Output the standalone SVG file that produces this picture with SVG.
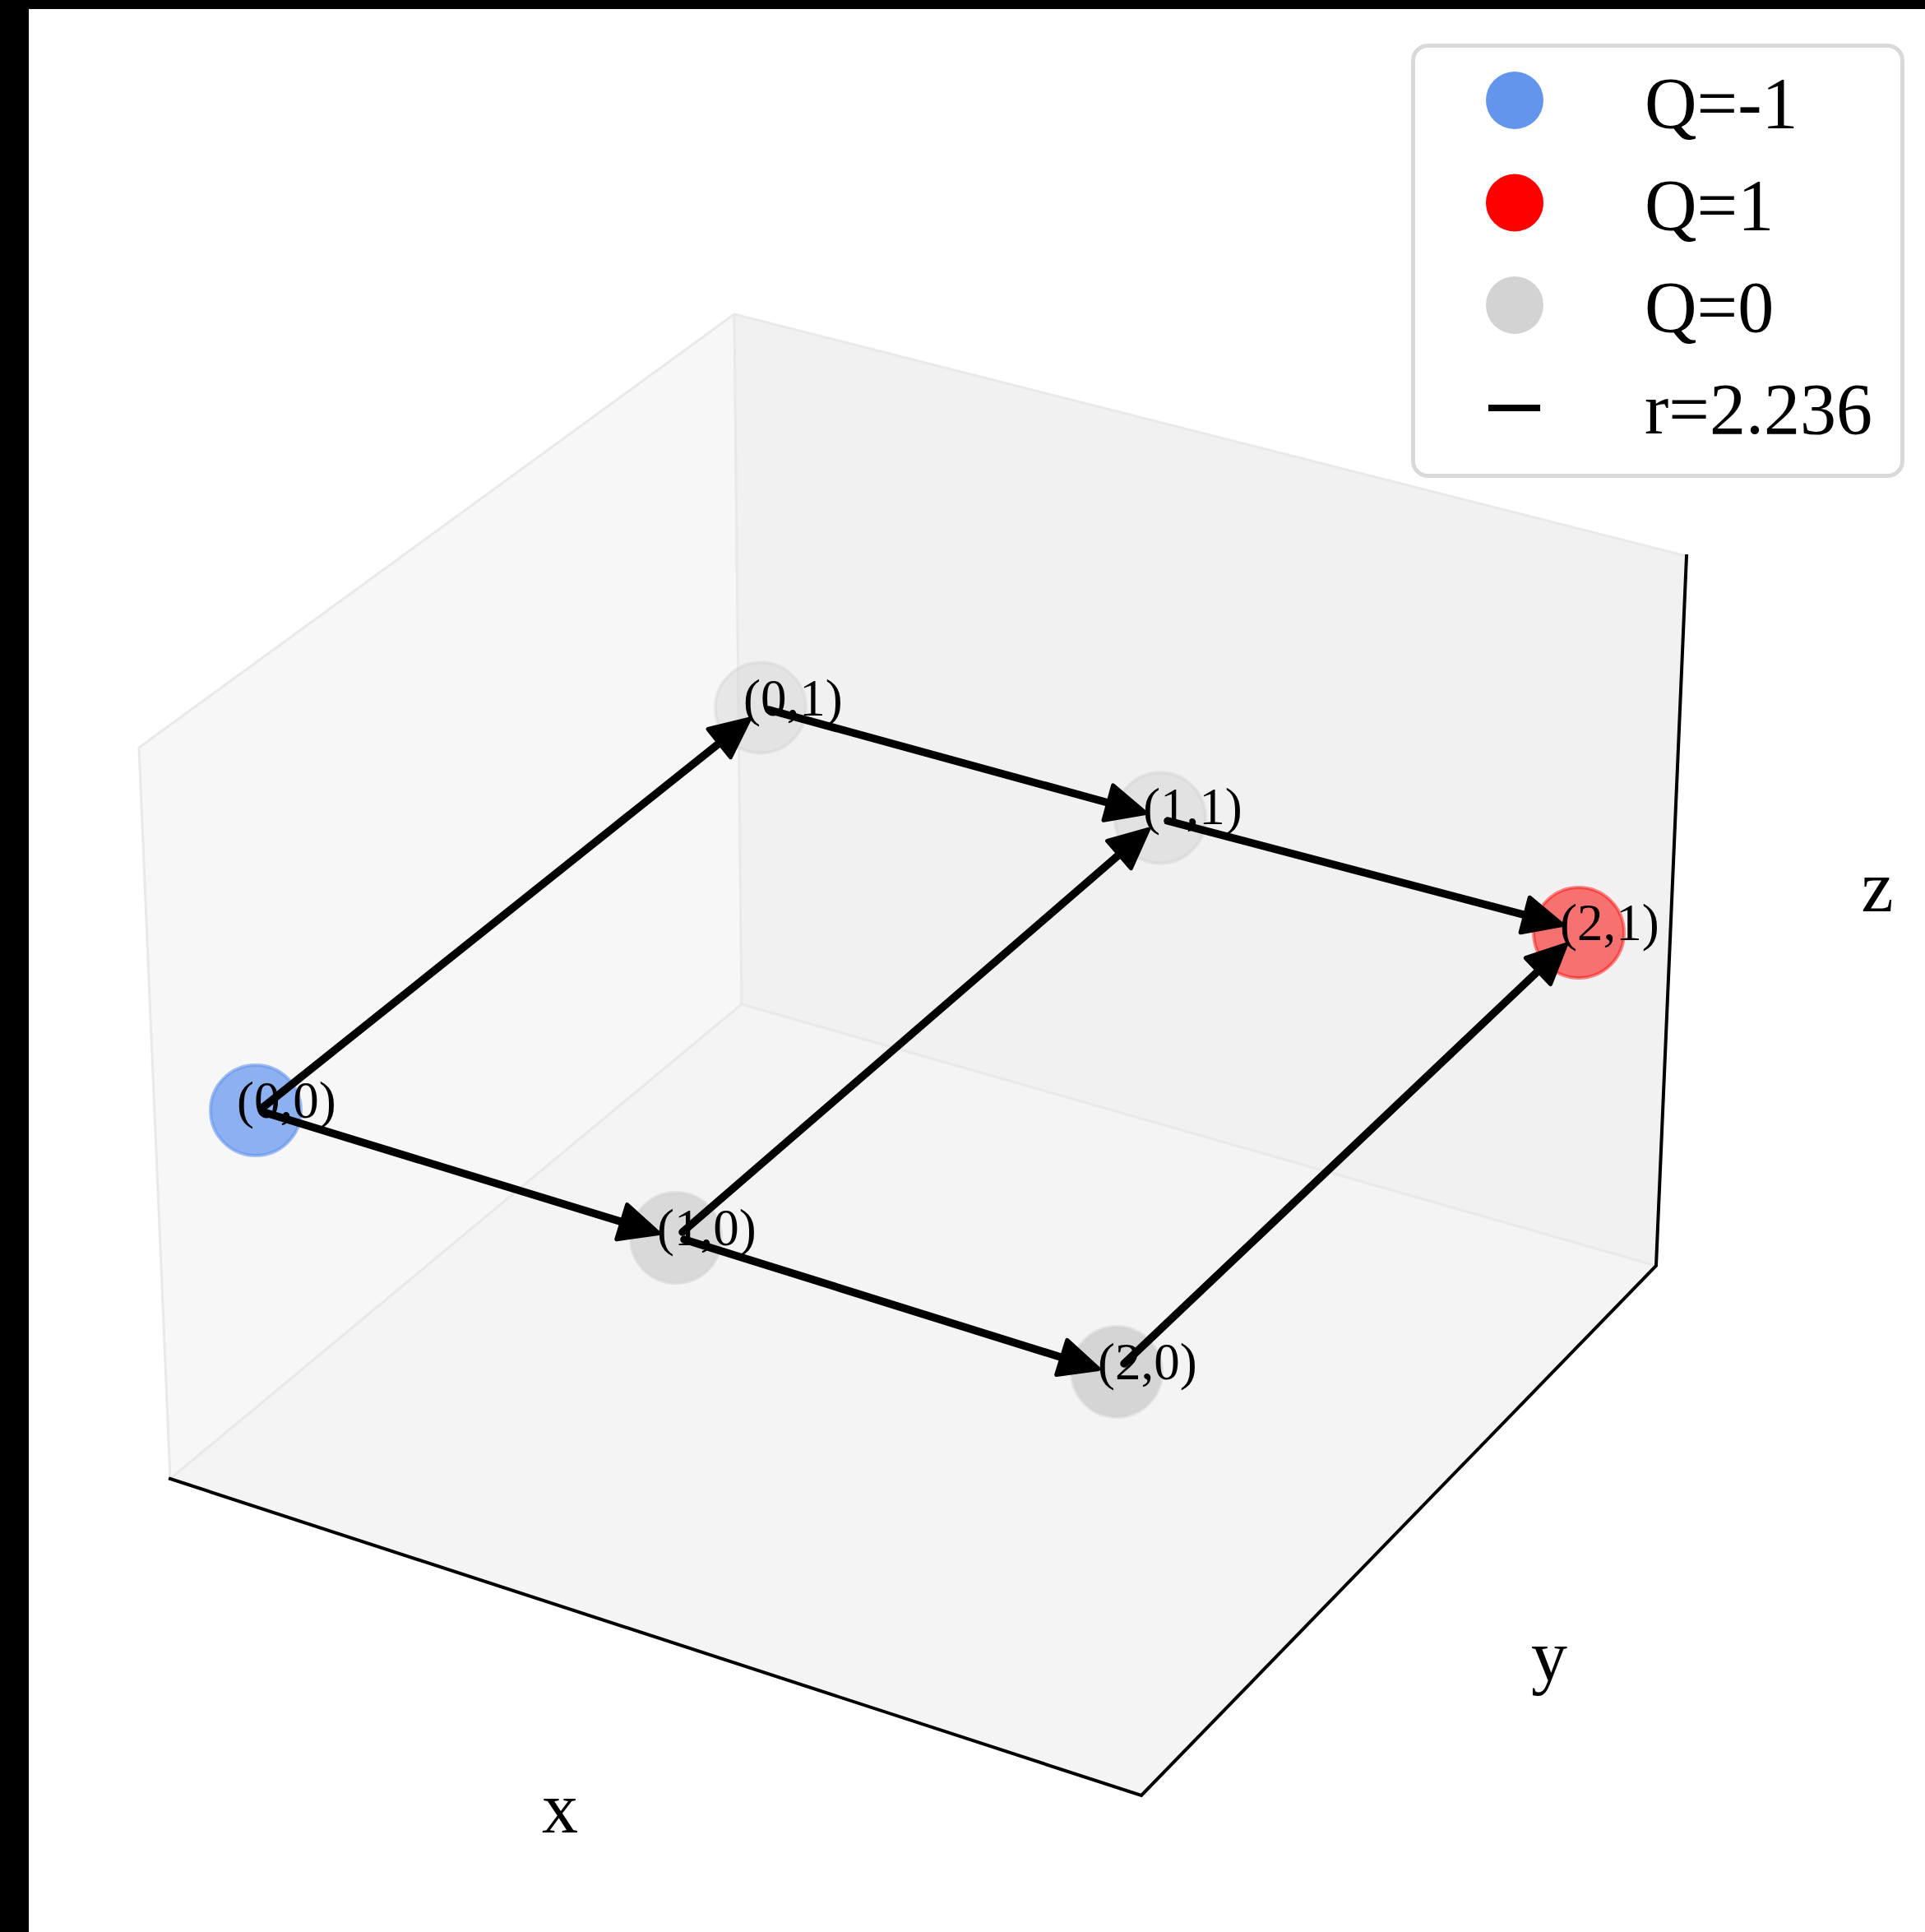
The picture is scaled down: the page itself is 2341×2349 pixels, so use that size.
<svg xmlns="http://www.w3.org/2000/svg" width="2341" height="2349" viewBox="0 0 2341 2349">
<style>
.lbl{font-family:"Liberation Serif","Times New Roman",serif;font-size:63px;fill:#000}
.leg{font-family:"Liberation Serif","Times New Roman",serif;font-size:88px;fill:#000}
.ax{font-family:"Liberation Serif","Times New Roman",serif;font-size:88px;fill:#000;text-anchor:middle}
.arr{stroke:#000;stroke-width:9.5;fill:none;stroke-linecap:round;marker-end:url(#head)}
.pane{stroke:#e9e9e9;stroke-width:3;stroke-linejoin:round}
.axis{stroke:#000;stroke-width:4;fill:none;stroke-linecap:square}
</style>
<defs>
<marker id="head" markerUnits="userSpaceOnUse" viewBox="-20 -32 76 64" markerWidth="76" markerHeight="64" refX="0" refY="0" orient="auto">
<path d="M-11,-22 L36,0 L-11,22 Z" fill="#000" stroke="#000" stroke-width="5" stroke-linejoin="round"/>
</marker>
</defs>
<rect x="0" y="0" width="2341" height="2349" fill="#fff"/>
<rect x="0" y="0" width="35" height="2349" fill="#000"/>
<rect x="0" y="0" width="2341" height="11" fill="#000"/>
<g id="panes">
<polygon class="pane" points="169,909 893,382 902,1221 207,1798" fill="#f7f7f7"/>
<polygon class="pane" points="893,382 2051,676 2014,1539 902,1221" fill="#f1f1f1"/>
<polygon class="pane" points="207,1798 902,1221 2014,1539 1388,2183" fill="#f4f4f4"/>
</g>
<g id="axes">
<polyline class="axis" points="207,1798 1388,2183 2014,1539 2051,676"/>
<text class="ax" x="681" y="2228">x</text>
<text class="ax" x="1884" y="2043">y</text>
<text class="ax" x="2283" y="1108">z</text>
</g>
<g id="node-0-1"><circle cx="925" cy="860.5" r="55" fill="#d3d3d3" fill-opacity="0.45" stroke="#d3d3d3" stroke-opacity="0.45" stroke-width="4"/></g>
<g id="node-1-1"><circle cx="1411" cy="994.5" r="55" fill="#d3d3d3" fill-opacity="0.5" stroke="#d3d3d3" stroke-opacity="0.5" stroke-width="4"/></g>
<g id="node-2-1"><circle cx="1920" cy="1134" r="55" fill="#ff0000" fill-opacity="0.53" stroke="#ff0000" stroke-opacity="0.45" stroke-width="4"/></g>
<g id="node-0-0"><circle cx="311" cy="1350" r="55" fill="#6495ed" fill-opacity="0.72" stroke="#6495ed" stroke-opacity="0.6" stroke-width="4"/></g>
<g id="node-1-0"><circle cx="822" cy="1505" r="55" fill="#d3d3d3" fill-opacity="0.85" stroke="#d3d3d3" stroke-opacity="0.6" stroke-width="4"/></g>
<g id="node-2-0"><circle cx="1358" cy="1668" r="55" fill="#d3d3d3" fill-opacity="0.95" stroke="#d3d3d3" stroke-opacity="0.5" stroke-width="4"/></g>
<g id="connectors">
<line class="arr" x1="319" y1="1347" x2="883.3" y2="896.7"/>
<line class="arr" x1="320" y1="1352" x2="766.7" y2="1488.9"/>
<line class="arr" x1="935" y1="863" x2="1358.4" y2="979"/>
<line class="arr" x1="830" y1="1498" x2="1369.3" y2="1031.9"/>
<line class="arr" x1="832" y1="1507" x2="1301.7" y2="1653.7"/>
<line class="arr" x1="1420" y1="998" x2="1865.3" y2="1115.3"/>
<line class="arr" x1="1367" y1="1658" x2="1878.4" y2="1173.1"/>
</g>
<g id="labels">
<text class="lbl" x="288" y="1359">(0,0)</text>
<text class="lbl" x="904" y="870">(0,1)</text>
<text class="lbl" x="1390" y="1002">(1,1)</text>
<text class="lbl" x="799" y="1514">(1,0)</text>
<text class="lbl" x="1335" y="1677">(2,0)</text>
<text class="lbl" x="1897" y="1143">(2,1)</text>
</g>
<g id="legend">
<rect x="1718.5" y="55.5" width="595" height="523" rx="18" fill="#fff" fill-opacity="0.85" stroke="#d9d9d9" stroke-width="5"/>
<circle cx="1842" cy="122" r="35" fill="#6495ed"/>
<circle cx="1842" cy="246.5" r="35" fill="#ff0000"/>
<circle cx="1842" cy="371" r="35" fill="#d3d3d3"/>
<line x1="1810" y1="496" x2="1873" y2="496" stroke="#000" stroke-width="8"/>
<text class="leg" x="2000" y="154.5">Q=-1</text>
<text class="leg" x="2000" y="278.5">Q=1</text>
<text class="leg" x="2000" y="402.5">Q=0</text>
<text class="leg" x="2000" y="526.5">r=2.236</text>
</g>
</svg>
